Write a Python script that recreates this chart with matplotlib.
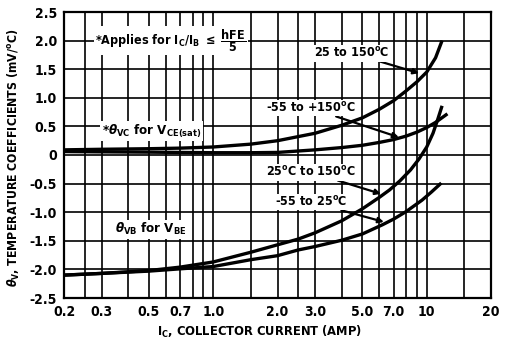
import matplotlib
matplotlib.use("Agg")
import matplotlib.pyplot as plt

# ---- data ----
vc_hot_x = [0.2, 0.3, 0.5, 0.7, 1.0, 1.5, 2.0, 3.0, 4.0, 5.0, 6.0, 7.0, 8.0, 9.0, 10.0, 11.0, 11.8]
vc_hot_y = [0.09, 0.10, 0.11, 0.12, 0.14, 0.19, 0.25, 0.38, 0.52, 0.65, 0.80, 0.95, 1.12, 1.28, 1.45, 1.70, 2.00]

vc_wide_x = [0.2, 0.3, 0.5, 0.7, 1.0, 1.5, 2.0, 3.0, 4.0, 5.0, 6.0, 7.0, 8.0, 9.0, 10.0, 11.0, 12.5]
vc_wide_y = [0.06, 0.055, 0.05, 0.045, 0.04, 0.04, 0.045, 0.09, 0.13, 0.17, 0.22, 0.27, 0.33, 0.40, 0.48, 0.57, 0.72]

vb_hot_x = [0.2, 0.3, 0.5, 0.7, 1.0, 1.5, 2.0, 2.5, 3.0, 4.0, 5.0, 6.0, 6.7, 7.5, 8.4, 9.2, 10.0, 10.7, 11.3, 11.8]
vb_hot_y = [-2.10, -2.07, -2.02, -1.96, -1.87, -1.70, -1.57, -1.47, -1.36, -1.15, -0.94, -0.74, -0.61, -0.45, -0.26, -0.07, 0.14, 0.38, 0.64, 0.86]

vb_cold_x = [0.2, 0.3, 0.5, 0.7, 1.0, 1.5, 2.0, 2.5, 3.0, 4.0, 5.0, 6.2, 7.0, 8.0, 9.5, 10.5, 11.7]
vb_cold_y = [-2.10, -2.07, -2.03, -1.99, -1.95, -1.83, -1.76, -1.66, -1.60, -1.49, -1.38, -1.22, -1.12, -0.99, -0.79, -0.65, -0.49]

x_grid = [0.25, 0.3, 0.4, 0.5, 0.6, 0.7, 0.8, 0.9, 1.0, 1.5, 2.0, 2.5, 3.0, 4.0, 5.0, 6.0, 7.0, 8.0, 9.0, 10.0, 15.0]
x_ticks = [0.2, 0.3, 0.5, 0.7, 1.0, 2.0, 3.0, 5.0, 7.0, 10, 20]
x_tick_labels = ["0.2", "0.3", "0.5", "0.7", "1.0", "2.0", "3.0", "5.0", "7.0", "10", "20"]
y_ticks = [2.5, 2.0, 1.5, 1.0, 0.5, 0, -0.5, -1.0, -1.5, -2.0, -2.5]
y_tick_labels = ["2.5", "2.0", "1.5", "1.0", "0.5", "0", "-0.5", "-1.0", "-1.5", "-2.0", "-2.5"]

# ---- fonts ----
plt.rcParams["font.family"] = ["DejaVu Sans"]
plt.rcParams["font.weight"] = "bold"
plt.rcParams["font.stretch"] = "condensed"
plt.rcParams["axes.labelweight"] = "bold"
plt.rcParams["mathtext.fontset"] = "custom"
plt.rcParams["mathtext.rm"] = "DejaVu Sans:weight=bold:stretch=condensed"
plt.rcParams["mathtext.it"] = "DejaVu Sans:style=oblique:weight=bold:stretch=condensed"
plt.rcParams["mathtext.bf"] = "DejaVu Sans:weight=bold:stretch=condensed"
plt.rcParams["mathtext.sf"] = "DejaVu Sans:weight=bold:stretch=condensed"
plt.rcParams["mathtext.default"] = "rm"

fig = plt.figure(figsize=(5.06, 3.45), dpi=100)
ax = fig.add_axes([64 / 506, 47 / 345, 427 / 506, 286 / 345])
ax.set_xscale("log")
ax.set_xlim(0.2, 20)
ax.set_ylim(-2.5, 2.5)

for xv in x_grid:
    ax.axvline(xv, color="black", lw=1.2, zorder=1)
for yv in y_ticks:
    ax.axhline(yv, color="black", lw=1.2, zorder=1)

for xs, ys in [(vc_hot_x, vc_hot_y), (vc_wide_x, vc_wide_y), (vb_hot_x, vb_hot_y), (vb_cold_x, vb_cold_y)]:
    ax.plot(xs, ys, color="black", lw=2.4, solid_capstyle="butt", zorder=3)

for s in ax.spines.values():
    s.set_linewidth(1.6)

ax.set_xticks(x_ticks)
ax.set_xticklabels(x_tick_labels)
ax.xaxis.set_minor_locator(matplotlib.ticker.NullLocator())
ax.set_yticks(y_ticks)
ax.set_yticklabels(y_tick_labels)
ax.tick_params(length=0, pad=5, labelsize=10)

ax.set_xlabel(r"I$_\mathrm{C}$, COLLECTOR CURRENT (AMP)", fontsize=9.3)
ax.xaxis.set_label_coords((260 - 64) / 427, -0.092)
ax.set_ylabel(r"$\mathit{\theta}_\mathrm{V}$, TEMPERATURE COEFFICIENTS (mV/$^\mathrm{o}$C)", fontsize=8.8)
ax.yaxis.set_label_coords(-0.098, 0.49)

box = dict(facecolor="white", edgecolor="none", pad=1.0)
fs = 9

ax.text(0.28, 2.0, r"*Applies for I$_\mathrm{C}$/I$_\mathrm{B}$ $\leq$ $\dfrac{\mathrm{hFE}}{5}$",
        fontsize=fs, va="center", ha="left", bbox=box, zorder=5)
ax.text(0.3, 0.42, r"*$\mathit{\theta}_\mathrm{VC}$ for V$_\mathrm{CE(sat)}$", fontsize=9.5, va="center", ha="left", bbox=box, zorder=5)
ax.text(0.345, -1.3, r"$\mathit{\theta}_\mathrm{VB}$ for V$_\mathrm{BE}$", fontsize=9.5, va="center", ha="left", bbox=box, zorder=5)

arrow = dict(arrowstyle="-|>", color="black", lw=1.6, mutation_scale=8, shrinkA=0, shrinkB=0)

ax.annotate(r"25 to 150$^\mathrm{o}$C", xy=(9.2, 1.43), xytext=(2.98, 1.78),
            fontsize=fs, va="center", ha="left", bbox=box, zorder=5, arrowprops=arrow)
ax.annotate(r"-55 to +150$^\mathrm{o}$C", xy=(7.4, 0.31), xytext=(1.77, 0.82),
            fontsize=fs, va="center", ha="left", bbox=box, zorder=5, arrowprops=arrow)
ax.annotate(r"25$^\mathrm{o}$C to 150$^\mathrm{o}$C", xy=(6.1, -0.68), xytext=(1.77, -0.30),
            fontsize=fs, va="center", ha="left", bbox=box, zorder=5, arrowprops=arrow)
ax.annotate(r"-55 to 25$^\mathrm{o}$C", xy=(6.3, -1.17), xytext=(1.94, -0.82),
            fontsize=fs, va="center", ha="left", bbox=box, zorder=5, arrowprops=arrow)

fig.savefig("out.png", dpi=100)
